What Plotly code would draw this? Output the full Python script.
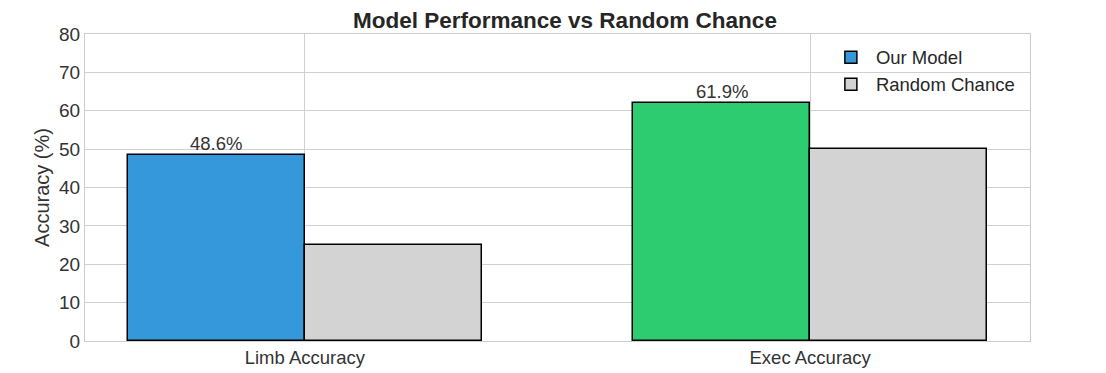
import plotly.graph_objects as go

categories = ["Limb Accuracy", "Exec Accuracy"]
model_values = [48.6, 61.9]
random_values = [25.0, 50.0]
model_colors = ["#3498db", "#2ecc71"]
random_color = "#d3d3d3"
y_ticks = [0, 10, 20, 30, 40, 50, 60, 70, 80]

width = 0.35
idx = list(range(len(categories)))
font_family = "Liberation Sans, Arial, sans-serif"

fig = go.Figure()
fig.add_trace(go.Bar(
    x=[i - width / 2 for i in idx], y=model_values, width=width,
    name="Our Model",
    marker=dict(color=model_colors, line=dict(color="black", width=1.5)),
))
fig.add_trace(go.Bar(
    x=[i + width / 2 for i in idx], y=random_values, width=width,
    name="Random Chance",
    marker=dict(color=random_color, line=dict(color="black", width=1.5)),
))

for i, v in zip(idx, model_values):
    fig.add_annotation(x=i - width / 2, y=v, text=f"{v:.1f}%", showarrow=False,
                       yanchor="bottom", yshift=-1,
                       font=dict(size=18.5, color="#333333", family=font_family))

fig.update_layout(
    width=1106, height=373,
    margin=dict(l=77, r=84, t=26, b=40),
    paper_bgcolor="white", plot_bgcolor="white",
    font=dict(family=font_family, color="#262626", size=18),
    title=dict(text="<b>Model Performance vs Random Chance</b>", x=0.5036, xanchor="center",
               y=0.968, yanchor="middle", font=dict(size=22.5, color="#262626")),
    showlegend=True,
    legend=dict(x=0.784, xanchor="left", y=0.985, yanchor="top",
                bgcolor="rgba(0,0,0,0)", font=dict(size=18.5, color="#262626"),
                itemwidth=40, tracegroupgap=0),
    bargap=0,
)
fig.update_xaxes(
    range=[-0.435, 1.435], tickvals=idx, ticktext=categories,
    showgrid=True, gridcolor="#d0d0d0", gridwidth=1,
    showline=True, linecolor="#cccccc", linewidth=1.2, mirror=True,
    ticks="", tickfont=dict(size=18.5, color="#333333"), zeroline=False,
)
fig.update_yaxes(
    range=[0, 80], tickvals=y_ticks,
    showgrid=True, gridcolor="#d0d0d0", gridwidth=1,
    showline=True, linecolor="#cccccc", linewidth=1.2, mirror=True,
    ticks="", tickfont=dict(size=19, color="#333333"), zeroline=False,
    title=dict(text="Accuracy (%)", font=dict(size=20, color="#333333"), standoff=3),
)

fig.write_html("out.html")
